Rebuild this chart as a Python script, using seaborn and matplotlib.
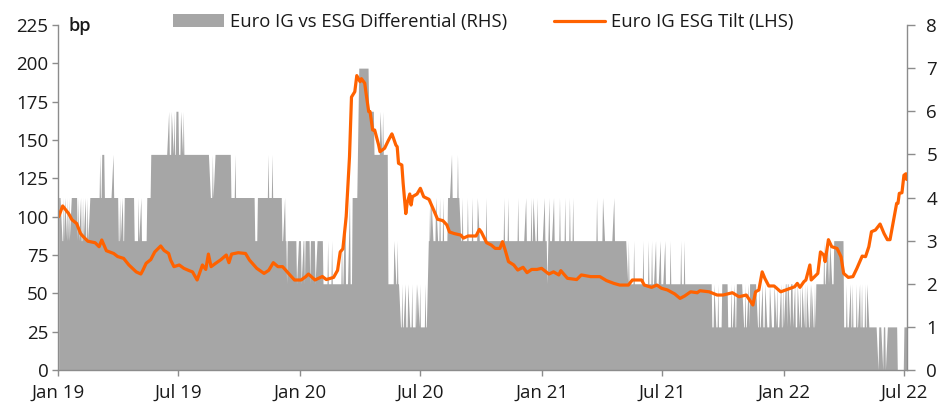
import pandas as pd
import seaborn as sns
import matplotlib.pyplot as plt
import matplotlib.dates as mdates
from matplotlib.patches import Patch
from matplotlib.lines import Line2D

# Euro IG ESG tilt (bp, left axis)
tilt_dates = [
    '2019-01-02', '2019-01-08', '2019-01-17', '2019-01-22', '2019-01-29', '2019-02-04', '2019-02-08',
    '2019-02-15', '2019-02-26', '2019-03-04', '2019-03-08', '2019-03-15', '2019-03-26', '2019-04-01',
    '2019-04-10', '2019-04-18', '2019-04-29', '2019-05-06', '2019-05-09', '2019-05-14', '2019-05-21',
    '2019-05-27', '2019-06-05', '2019-06-10', '2019-06-17', '2019-06-20', '2019-06-25', '2019-07-03',
    '2019-07-10', '2019-07-18', '2019-07-23', '2019-07-30', '2019-08-07', '2019-08-12', '2019-08-16',
    '2019-08-20', '2019-08-27', '2019-09-04', '2019-09-12', '2019-09-16', '2019-09-20', '2019-09-30',
    '2019-10-11', '2019-10-17', '2019-10-28', '2019-11-08', '2019-11-15', '2019-11-22', '2019-11-29',
    '2019-12-06', '2019-12-17', '2019-12-24',
    '2020-01-03', '2020-01-10', '2020-01-14', '2020-01-24', '2020-02-04', '2020-02-10', '2020-02-21',
    '2020-02-27', '2020-03-02', '2020-03-06', '2020-03-11', '2020-03-16', '2020-03-19', '2020-03-24',
    '2020-03-27', '2020-04-01', '2020-04-03', '2020-04-08', '2020-04-10', '2020-04-14', '2020-04-16',
    '2020-04-20', '2020-04-23', '2020-04-29', '2020-05-01', '2020-05-08', '2020-05-14', '2020-05-19',
    '2020-05-21', '2020-05-25', '2020-05-27', '2020-05-29', '2020-06-03', '2020-06-05', '2020-06-09',
    '2020-06-11', '2020-06-15', '2020-06-17', '2020-06-19', '2020-06-26', '2020-07-01', '2020-07-06',
    '2020-07-14', '2020-07-20', '2020-07-27', '2020-08-04', '2020-08-10', '2020-08-14', '2020-08-21',
    '2020-08-31', '2020-09-04', '2020-09-11', '2020-09-23', '2020-09-28', '2020-10-01', '2020-10-09',
    '2020-10-16', '2020-10-22', '2020-10-29', '2020-11-02', '2020-11-06', '2020-11-11', '2020-11-19',
    '2020-11-25', '2020-12-03', '2020-12-09', '2020-12-16', '2020-12-24', '2020-12-31',
    '2021-01-11', '2021-01-18', '2021-01-26', '2021-01-29', '2021-02-08', '2021-02-22', '2021-03-01',
    '2021-03-15', '2021-03-29', '2021-04-08', '2021-04-19', '2021-04-28', '2021-05-11', '2021-05-17',
    '2021-05-31', '2021-06-04', '2021-06-15', '2021-06-23', '2021-06-30', '2021-07-09', '2021-07-20',
    '2021-07-28', '2021-08-04', '2021-08-13', '2021-08-23', '2021-08-27', '2021-09-10', '2021-09-22',
    '2021-10-01', '2021-10-15', '2021-10-25', '2021-11-05', '2021-11-15', '2021-11-19', '2021-11-24',
    '2021-11-29', '2021-12-03', '2021-12-09', '2021-12-17', '2021-12-27',
    '2022-01-06', '2022-01-17', '2022-01-21', '2022-01-25', '2022-01-31', '2022-02-03', '2022-02-09',
    '2022-02-11', '2022-02-21', '2022-02-25', '2022-03-02', '2022-03-04', '2022-03-09', '2022-03-14',
    '2022-03-22', '2022-03-28', '2022-04-01', '2022-04-08', '2022-04-15', '2022-04-21', '2022-04-29',
    '2022-05-04', '2022-05-09', '2022-05-13', '2022-05-19', '2022-05-26', '2022-06-01', '2022-06-06',
    '2022-06-10', '2022-06-16', '2022-06-20', '2022-06-22', '2022-06-24', '2022-06-28', '2022-07-01',
    '2022-07-04', '2022-07-05',
]
tilt_bp = [
    100, 107, 102, 98, 95.6, 89, 87,
    84, 83, 80.4, 84.8, 77.8, 76, 74,
    72.8, 68.5, 64, 62.6, 65, 69.6, 72,
    77, 80.9, 78, 76, 71.7, 67.4, 68.5,
    66.3, 64.8, 64, 58.7, 68.5, 65.6, 75.6,
    67.4, 69.6, 72, 75, 70, 75.6, 76.5,
    76, 71.7, 66.3, 63, 65, 70, 67.4,
    67.4, 62, 58.7,
    58.7, 60.9, 62.6, 58.7, 61, 59, 60.4,
    65, 77, 79, 100, 139, 178, 181.5,
    192, 188, 190, 187, 180.5, 168.5, 168.5,
    156.5, 156.5, 146.7, 142.4, 144.6, 150, 154,
    151.7, 146.7, 145.6, 134.8, 133.7, 121.7, 102,
    108.7, 114.8, 107.6, 113, 114.8, 118.5, 113,
    111.3, 105.4, 98.3, 97.4, 94.6, 90, 89,
    88, 86, 87.4, 87.4, 91.7, 90, 83,
    81.5, 79.3, 79.3, 83.7, 78.3, 70.7, 68.5,
    65.2, 67, 63.5, 65.6, 65.6, 66.3,
    62.6, 64, 62, 64.8, 59.8, 59, 62,
    60.9, 60.9, 58.3, 56.5, 55.4, 55.4, 58.7,
    58.7, 55.4, 53.9, 55.4, 53.3, 52.2, 49.6,
    46.7, 48.3, 51, 50.4, 51.7, 51, 48.9,
    48.9, 50.4, 47.8, 48.9, 42.4, 51, 52.2,
    64, 59.8, 54.8, 54.8, 51,
    52.6, 54.3, 56.5, 53.9, 57.6, 58.7, 68.5,
    58.7, 63, 77, 75, 70.7, 85, 80.4,
    79.3, 73.9, 63, 60.4, 60.9, 66.3, 74.3,
    73.9, 80.4, 90.2, 91.3, 95.2, 89, 85,
    85, 99, 108.7, 108.7, 115.2, 115.6, 127,
    128, 124.3,
]

# Euro IG vs ESG differential (right axis): level from each date on
diff_dates = [
    '2019-01-02', '2019-01-07', '2019-01-21', '2019-01-30', '2019-02-18', '2019-04-02', '2019-04-11',
    '2019-04-26', '2019-05-15', '2019-05-21', '2019-08-19', '2019-08-26', '2019-09-19', '2019-10-25',
    '2019-10-29', '2019-12-05', '2020-02-05', '2020-03-20', '2020-03-30', '2020-04-14', '2020-04-22',
    '2020-05-13', '2020-06-01', '2020-07-13', '2020-08-11', '2020-08-31', '2021-05-10', '2021-09-14',
    '2021-09-29', '2021-10-08', '2021-10-21', '2021-11-01', '2021-11-10', '2021-11-22', '2022-01-03',
    '2022-01-14', '2022-02-18', '2022-03-17', '2022-04-01', '2022-06-21', '2022-07-01',
]
diff_levels = [
    4, 3, 4, 3, 4, 3, 4,
    3, 4, 5, 4, 5, 4, 3,
    4, 3, 2, 4, 7, 6, 5,
    2, 1, 3, 4, 3, 2, 1,
    2, 1, 2, 1, 2, 1, 2,
    1, 2, 3, 1, 0, 1,
]
# single-day moves of the differential
spike_dates = [
    '2019-01-09', '2019-01-11', '2019-01-15', '2019-01-17', '2019-01-31', '2019-02-04', '2019-02-07',
    '2019-02-11', '2019-02-14', '2019-03-05', '2019-03-08', '2019-03-11', '2019-03-25', '2019-04-04',
    '2019-04-08', '2019-05-02', '2019-05-06', '2019-06-17', '2019-06-21', '2019-06-25', '2019-06-28',
    '2019-07-01', '2019-07-05', '2019-07-09', '2019-08-22', '2019-09-25', '2019-11-14', '2019-11-20',
    '2019-12-09', '2019-12-12', '2019-12-27',
    '2020-01-03', '2020-01-08', '2020-01-16', '2020-01-24', '2020-02-12', '2020-02-18', '2020-03-04',
    '2020-03-09', '2020-03-16', '2020-05-01', '2020-05-05', '2020-05-22', '2020-05-27', '2020-06-03',
    '2020-06-08', '2020-06-12', '2020-06-18', '2020-06-24', '2020-06-26', '2020-06-30', '2020-07-08',
    '2020-07-15', '2020-07-17', '2020-07-24', '2020-07-30', '2020-08-04', '2020-08-17', '2020-08-26',
    '2020-09-02', '2020-09-10', '2020-09-17', '2020-09-25', '2020-10-08', '2020-11-04', '2020-11-10',
    '2020-11-25', '2020-12-07', '2020-12-15', '2020-12-18', '2020-12-24',
    '2021-01-04', '2021-01-08', '2021-01-11', '2021-01-18', '2021-01-27', '2021-02-04', '2021-02-11',
    '2021-02-16', '2021-03-24', '2021-04-02', '2021-04-19', '2021-05-11', '2021-05-19', '2021-06-02',
    '2021-06-10', '2021-06-15', '2021-06-21', '2021-06-28', '2021-07-05', '2021-07-13', '2021-07-29',
    '2021-08-03', '2021-09-17', '2021-09-23', '2021-10-13', '2021-10-18', '2021-11-03', '2021-11-08',
    '2021-11-24', '2021-11-29', '2021-12-03', '2021-12-10', '2021-12-17', '2021-12-21', '2021-12-27',
    '2021-12-30',
    '2022-01-05', '2022-01-10', '2022-01-17', '2022-01-21', '2022-01-25', '2022-01-28', '2022-02-01',
    '2022-02-04', '2022-02-09', '2022-02-11', '2022-02-16', '2022-03-02', '2022-03-07', '2022-03-09',
    '2022-03-11', '2022-04-05', '2022-04-11', '2022-04-14', '2022-04-20', '2022-04-25', '2022-04-28',
    '2022-05-03', '2022-05-06', '2022-05-23', '2022-05-30', '2022-06-03',
]
spike_levels = [
    4, 4, 4, 4, 4, 4, 4,
    4, 4, 5, 5, 5, 5, 4,
    4, 4, 4, 6, 6, 6, 6,
    6, 6, 6, 5, 5, 5, 5,
    4, 2, 2,
    2, 2, 2, 2, 3, 3, 3,
    4, 4, 6, 6, 3, 3, 2,
    2, 2, 2, 2, 2, 2, 2,
    4, 4, 4, 4, 4, 5, 5,
    4, 4, 4, 4, 4, 4, 4,
    4, 4, 4, 4, 4,
    4, 2, 4, 4, 4, 4, 4,
    4, 4, 4, 4, 3, 3, 3,
    3, 3, 3, 3, 3, 3, 3,
    3, 2, 2, 2, 2, 2, 2,
    2, 2, 2, 2, 2, 2, 2,
    2,
    1, 1, 2, 2, 2, 2, 2,
    2, 2, 2, 2, 3, 3, 3,
    3, 2, 2, 2, 2, 2, 2,
    2, 2, 0, 0, 0,
]

grey = '#a6a6a6'
orange = '#ff6200'
axis_grey = '#8c8c8c'
text_col = '#1a1a1a'

sns.set_theme(style='white')
plt.rcParams['font.family'] = ['Open Sans', 'DejaVu Sans']

# daily differential series from the level changes and single-day moves
days = pd.bdate_range('2019-01-02', '2022-07-05')
diff = pd.Series(diff_levels, index=pd.to_datetime(diff_dates)).reindex(days, method='ffill')
pos = days.get_indexer(pd.to_datetime(spike_dates), method='nearest')
diff.iloc[pos] = spike_levels

tilt = pd.DataFrame({'date': pd.to_datetime(tilt_dates), 'bp': tilt_bp})

fig = plt.figure(figsize=(9.53, 4.18), dpi=100)
ax = fig.add_axes([0.0609, 0.1148, 0.8908, 0.8254])
ax2 = ax.twinx()

ax2.fill_between(days, 0, diff.values, color=grey, linewidth=0)
ax2.set_ylim(0, 8)
ax2.set_yticks(range(0, 9))

sns.lineplot(data=tilt, x='date', y='bp', ax=ax, color=orange, linewidth=2.3)
ax.set_zorder(ax2.get_zorder() + 1)
ax.patch.set_visible(False)

ax.set_ylim(0, 225)
ax.set_yticks(range(0, 226, 25))
ax.set_xlim(pd.Timestamp('2019-01-01'), pd.Timestamp('2022-07-05 14:00'))
ax.xaxis.set_major_locator(mdates.MonthLocator(bymonth=[1, 7]))
ax.xaxis.set_major_formatter(mdates.DateFormatter('%b %y'))
ax.set_xlabel('')
ax.set_ylabel('')

for a in (ax, ax2):
    for s in a.spines.values():
        s.set_visible(False)
ax.spines['left'].set_visible(True)
ax.spines['bottom'].set_visible(True)
ax2.spines['right'].set_visible(True)
for s in (ax.spines['left'], ax.spines['bottom'], ax2.spines['right']):
    s.set_color(axis_grey)
    s.set_linewidth(1)

tick_size = 13.5
ax.tick_params(axis='y', direction='out', length=4, width=1, color=axis_grey,
               labelsize=tick_size, labelcolor=text_col, pad=3, left=True)
ax.tick_params(axis='x', direction='out', length=4, width=1, color=axis_grey,
               labelsize=tick_size, labelcolor=text_col, pad=6, bottom=True)
ax2.tick_params(axis='y', direction='out', length=6, width=1, color=axis_grey,
                labelsize=tick_size, labelcolor=text_col, pad=8, right=True)
ax.grid(False)
ax2.grid(False)

ax.text(0.012, 0.997, 'bp', transform=ax.transAxes, ha='left', va='center',
        fontsize=13, color=text_col, fontweight='semibold')

handles = [Patch(facecolor=grey, edgecolor='none'),
           Line2D([0], [0], color=orange, linewidth=2.3)]
labels = ['Euro IG vs ESG Differential (RHS)', 'Euro IG ESG Tilt (LHS)']
fig.legend(handles, labels, loc='center', bbox_to_anchor=(0.507, 0.947), ncol=2,
           frameon=False, fontsize=13.3, handlelength=2.8, handleheight=0.7,
           handletextpad=0.33, columnspacing=2.5, labelcolor=text_col)

fig.savefig('out.png', dpi=100)
